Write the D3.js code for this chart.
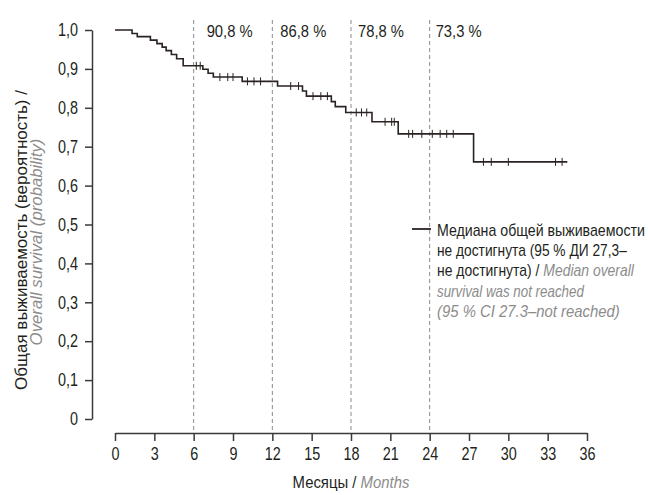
<!DOCTYPE html>
<html>
<head>
<meta charset="utf-8">
<script src="https://cdn.jsdelivr.net/npm/d3@7"></script>
<style>
  body { margin: 0; background: #fff; }
  text { font-family: 'Liberation Sans', Arial, sans-serif; fill: #231f20; }
</style>
</head>
<body>
<script>
// Kaplan-Meier steps: time (months) and survival after the step
var stepTimes = [0, 1.3, 1.7, 2.7, 3.2, 3.6, 3.9, 4.3, 4.7, 5.2, 6.7, 7.1, 7.5, 9.7, 12.4, 14.3, 14.6, 16.5, 16.8, 17.6, 19.6, 21.6, 27.35];
var stepSurv  = [1, 0.991, 0.983, 0.974, 0.965, 0.956, 0.947, 0.937, 0.926, 0.908, 0.899, 0.889, 0.879, 0.868, 0.856, 0.843, 0.830, 0.816, 0.803, 0.788, 0.764, 0.733, 0.661];
var endTime = 34.5;
var censorTimes = [6.2, 6.5, 8.0, 8.6, 9.0, 10.1, 10.6, 11.1, 13.4, 14.0, 15.1, 15.7, 16.2,
                   18.4, 18.8, 19.2, 20.6, 21.1, 21.3, 22.4, 22.7, 23.4, 24.2, 24.8, 25.3, 25.8,
                   28.1, 28.7, 30.0, 33.6, 34.1];

var xTicks = [0, 3, 6, 9, 12, 15, 18, 21, 24, 27, 30, 33, 36];
var yTicks = [0, 0.1, 0.2, 0.3, 0.4, 0.5, 0.6, 0.7, 0.8, 0.9, 1.0];
var markTimes = [6, 12, 18, 24];
var markLabels = ["90,8 %", "86,8 %", "78,8 %", "73,3 %"];

var legendLines = [
  [{t: "Медиана общей выживаемости", en: false}],
  [{t: "не достигнута (95  % ДИ 27,3–", en: false}],
  [{t: "не достигнута) / ", en: false}, {t: "Median overall", en: true}],
  [{t: "survival was not reached", en: true}],
  [{t: "(95  % CI 27.3–not reached)", en: true}]
];
var legendWidths = [208, 190, 197, 147, 183];

var w = 648, h = 495;
var narrow = 0.8;
var grey = "#8c8c8c";
var svg = d3.select("body").append("svg").attr("width", w).attr("height", h);

var x = d3.scaleLinear().domain([0, 36]).range([115, 587]);
var y = d3.scaleLinear().domain([0, 1]).range([419, 30]);

function survAt(t) {
  var s = 1;
  for (var i = 0; i < stepTimes.length; i++) {
    if (stepTimes[i] <= t) s = stepSurv[i];
  }
  return s;
}

// text squeezed horizontally to imitate a condensed face
function fitText(px, py, rot, anchor, size, segs, width) {
  var g = svg.append("g");
  var t = g.append("text").attr("text-anchor", anchor).attr("font-size", size + "px");
  t.selectAll("tspan")
    .data(segs)
    .enter()
    .append("tspan")
    .attr("font-style", function(d){ return d.en ? "italic" : "normal"; })
    .style("fill", function(d){ return d.en ? grey : "#231f20"; })
    .text(function(d){ return d.t; });
  var k = width ? width / t.node().getComputedTextLength() : narrow;
  g.attr("transform", "translate(" + px + "," + py + ")" + (rot ? " rotate(" + rot + ")" : "") + " scale(" + k + ",1)");
  return g;
}

// dashed reference lines
svg.selectAll("line.ref")
  .data(markTimes)
  .enter()
  .append("line")
  .attr("class", "ref")
  .attr("x1", function(d){ return x(d); })
  .attr("x2", function(d){ return x(d); })
  .attr("y1", 20)
  .attr("y2", 433)
  .attr("stroke", "#8a8a8a")
  .attr("stroke-width", 1)
  .attr("stroke-dasharray", "4,3");

var markOffsets = [13, 8, 7, 6];
markLabels.forEach(function(d, i){
  fitText(x(markTimes[i]) + markOffsets[i], 37, 0, "start", 17, [{t: d}], 46);
});

// axes
var xAxis = d3.axisBottom(x).tickValues(xTicks).tickSize(8).tickSizeOuter(0).tickPadding(6)
  .tickFormat(function(d){ return d; });
var gx = svg.append("g").attr("transform", "translate(0,433)").call(xAxis);

var yAxis = d3.axisLeft(y).tickValues(yTicks).tickSize(7).tickSizeOuter(0).tickPadding(7)
  .tickFormat(function(d){ return d === 0 ? "0" : d3.format(".1f")(d).replace(".", ","); });
var gy = svg.append("g").attr("transform", "translate(92,0)").call(yAxis);

[gx, gy].forEach(function(g){
  g.select(".domain").attr("stroke", "#3a3a3a").attr("stroke-width", 1.5);
  g.selectAll(".tick line").attr("stroke", "#3a3a3a").attr("stroke-width", 1.5);
  g.selectAll(".tick text").attr("font-size", "18px").attr("fill", "#231f20")
    .attr("font-family", "'Liberation Sans', Arial, sans-serif")
    .attr("transform", "scale(" + narrow + ",1)");
});
gy.selectAll(".tick text").attr("x", -14 / narrow);

// survival curve
var pts = stepTimes.map(function(t, i){ return [t, stepSurv[i]]; });
pts.push([endTime, stepSurv[stepSurv.length - 1]]);
var line = d3.line()
  .x(function(d){ return x(d[0]); })
  .y(function(d){ return y(d[1]); })
  .curve(d3.curveStepAfter);

svg.append("path")
  .datum(pts)
  .attr("d", line)
  .attr("fill", "none")
  .attr("stroke", "#2b2222")
  .attr("stroke-width", 1.6);

svg.selectAll("line.cens")
  .data(censorTimes)
  .enter()
  .append("line")
  .attr("class", "cens")
  .attr("x1", function(d){ return x(d); })
  .attr("x2", function(d){ return x(d); })
  .attr("y1", function(d){ return y(survAt(d)) - 4; })
  .attr("y2", function(d){ return y(survAt(d)) + 4; })
  .attr("stroke", "#2b2222")
  .attr("stroke-width", 1);

// legend
svg.append("line")
  .attr("x1", 412).attr("x2", 431)
  .attr("y1", 229).attr("y2", 229)
  .attr("stroke", "#2b2222").attr("stroke-width", 1.8);

legendLines.forEach(function(segs, i){
  fitText(437, 236 + i * 20.2, 0, "start", 16, segs, legendWidths[i]);
});

// axis titles
fitText(351, 488, 0, "middle", 17, [{t: "Месяцы / "}, {t: "Months", en: true}], 117);
fitText(27, 240, -90, "middle", 17, [{t: "Общая выживаемость (вероятность) /"}], 300);
fitText(42, 242, -90, "middle", 17, [{t: "Overall survival (probability)", en: true}], 207);
</script>
</body>
</html>
